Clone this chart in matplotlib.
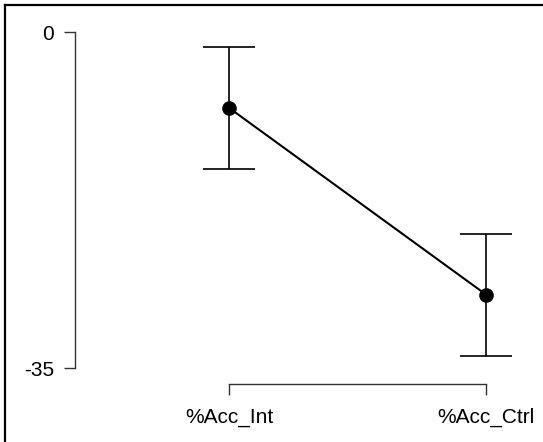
import matplotlib
matplotlib.use("Agg")
import matplotlib.pyplot as plt
from matplotlib.lines import Line2D

categories = ["%Acc_Int", "%Acc_Ctrl"]
means = [-7.9, -27.35]
errors = [6.35, 6.35]
yticks = [0, -35]

plt.rcParams['font.family'] = ['Liberation Sans', 'DejaVu Sans']

W, H = 543, 442
fig = plt.figure(figsize=(W / 100, H / 100), dpi=100)

# axes box in pixels
L, R, B, T = 75, 530, 384, 20
ax = fig.add_axes([L / W, (H - B) / H, (R - L) / W, (B - T) / H])

x = [1, 2]
ax.errorbar(x, means, yerr=errors, fmt='none', ecolor='black', elinewidth=1.2,
            capsize=18.5, capthick=1.2)
ax.plot(x, means, color='black', lw=1.5, marker='o', markersize=9.5)

px_y = (368 - 32) / 35.0
ax.set_ylim(-35 - (B - 368) / px_y, 0 + (32 - T) / px_y)
px_x = 486 - 229
ax.set_xlim(1 - (229 - L) / px_x, 2 + (R - 486) / px_x)

for s in ['top', 'right']:
    ax.spines[s].set_visible(False)
ax.spines['left'].set_bounds(-35, 0)
ax.spines['bottom'].set_bounds(1, 2)
for s in ['left', 'bottom']:
    ax.spines[s].set_color('#333333')
    ax.spines[s].set_linewidth(1.0)

ax.set_yticks(yticks)
ax.set_yticklabels([str(v) for v in yticks])
ax.set_xticks(x)
ax.set_xticklabels(categories)
ax.tick_params(axis='both', direction='out', length=8, width=1.0, color='#333333',
               labelsize=15, labelcolor='black')
ax.tick_params(axis='y', pad=7)
ax.tick_params(axis='x', pad=9)
ax.patch.set_visible(False)

# partial figure border (top and left)
fig.add_artist(Line2D([5 / W, 1], [1 - 4.5 / H, 1 - 4.5 / H], color='black', lw=1.6,
                      transform=fig.transFigure))
fig.add_artist(Line2D([5 / W, 5 / W], [0, 1 - 4.5 / H], color='black', lw=1.6,
                      transform=fig.transFigure))

fig.savefig("out.png", dpi=100)
